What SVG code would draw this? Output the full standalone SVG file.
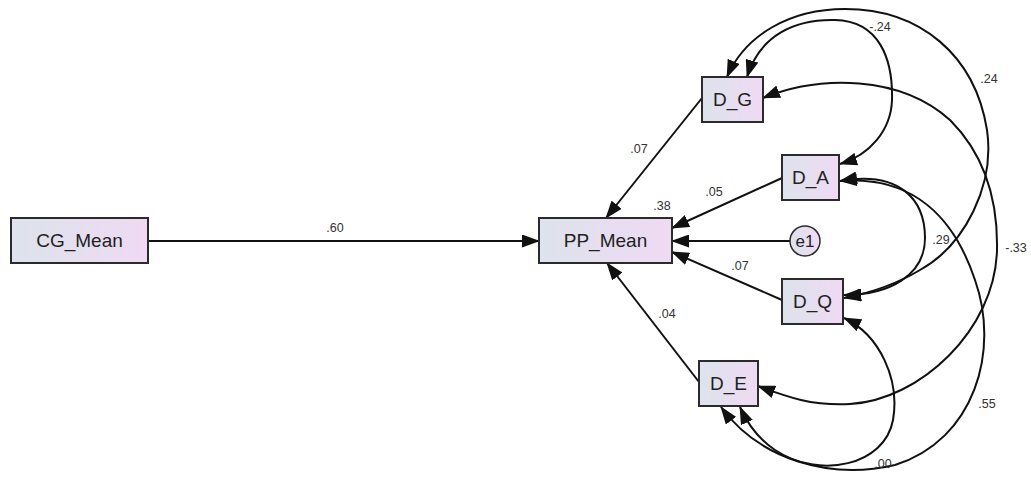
<svg xmlns="http://www.w3.org/2000/svg" width="1031" height="477" viewBox="0 0 1031 477">
<style>
.box{stroke:#2b2b2b;stroke-width:2;fill:url(#g)}
.nt{font-family:"Liberation Sans",Arial,sans-serif;font-size:19px;fill:#222;text-anchor:middle}
.lb{font-family:"Liberation Sans",Arial,sans-serif;font-size:12.5px;fill:#333;text-anchor:middle}
.ln{stroke:#111;stroke-width:2;fill:none;marker-end:url(#ah)}
.cv{stroke:#111;stroke-width:2;fill:none;marker-start:url(#ah);marker-end:url(#ah)}
</style>
<defs>
<linearGradient id="g" x1="0" y1="0" x2="1" y2="0">
<stop offset="0" stop-color="#dde3ec"/>
<stop offset="1" stop-color="#efdaf3"/>
</linearGradient>
<marker id="ah" markerUnits="userSpaceOnUse" markerWidth="18" markerHeight="13" refX="17" refY="6.5" orient="auto-start-reverse">
<path d="M0,0 L18,6.5 L0,13 z" fill="#111"/>
</marker>
</defs>
<rect width="1031" height="477" fill="#fff"/>
<g id="connectors">
<path class="ln" d="M148,241 L539,241"/>
<path class="ln" d="M702,98 L606,218"/>
<path class="ln" d="M782,178 L672,228"/>
<path class="ln" d="M790,241 L672,241"/>
<path class="ln" d="M782,300 L672,252"/>
<path class="ln" d="M699,382 L607,263"/>
<path class="cv" d="M747,77 C760,35 795,19 835,20 C880,21 893,60 892,100 C891,130 870,155 840,164"/>
<path class="cv" d="M727,77 C745,35 790,9 845,9 C920,9 975,55 987,130 C995,185 965,245 920,270 C895,285 870,293 844,298"/>
<path class="cv" d="M763,98 C820,75 900,75 950,120 C985,155 998,200 997,250 C995,330 920,400 850,404 C810,406 785,396 758,386"/>
<path class="cv" d="M840,181 C900,170 925,200 925,238 C925,275 890,295 844,295"/>
<path class="cv" d="M840,181 C915,175 955,220 975,280 C1000,350 975,440 895,465 C830,480 760,460 721,407"/>
<path class="cv" d="M844,318 C880,335 900,380 893,420 C885,465 820,480 775,450 C760,440 748,425 740,407"/>
</g>
<g id="CG_Mean"><rect class="box" x="11" y="218" width="137" height="45"/><text class="nt" x="79.5" y="247">CG_Mean</text></g>
<g id="PP_Mean"><rect class="box" x="539" y="218" width="133" height="45"/><text class="nt" x="605.5" y="247">PP_Mean</text></g>
<g id="D_G"><rect class="box" x="702" y="77" width="61" height="45"/><text class="nt" x="732.5" y="106">D_G</text></g>
<g id="D_A"><rect class="box" x="782" y="155" width="57" height="45"/><text class="nt" x="810.5" y="184">D_A</text></g>
<g id="D_Q"><rect class="box" x="782" y="279" width="61" height="45"/><text class="nt" x="812.5" y="308">D_Q</text></g>
<g id="D_E"><rect class="box" x="699" y="361" width="59" height="45"/><text class="nt" x="728.5" y="390">D_E</text></g>
<g id="e1"><circle cx="805" cy="241" r="15" stroke="#2b2b2b" stroke-width="1.5" fill="url(#g)"/><text class="nt" x="805" y="247" style="font-size:17px">e1</text></g>
<g id="labels">
<text class="lb" x="335" y="232">.60</text>
<text class="lb" x="639" y="153">.07</text>
<text class="lb" x="662" y="210">.38</text>
<text class="lb" x="714" y="196">.05</text>
<text class="lb" x="740" y="270">.07</text>
<text class="lb" x="667" y="318">.04</text>
<text class="lb" x="880" y="31">-.24</text>
<text class="lb" x="989" y="83">.24</text>
<text class="lb" x="941" y="244">.29</text>
<text class="lb" x="1016" y="252">-.33</text>
<text class="lb" x="987" y="408">.55</text>
<text class="lb" x="883" y="468">.00</text>
</g>
</svg>
